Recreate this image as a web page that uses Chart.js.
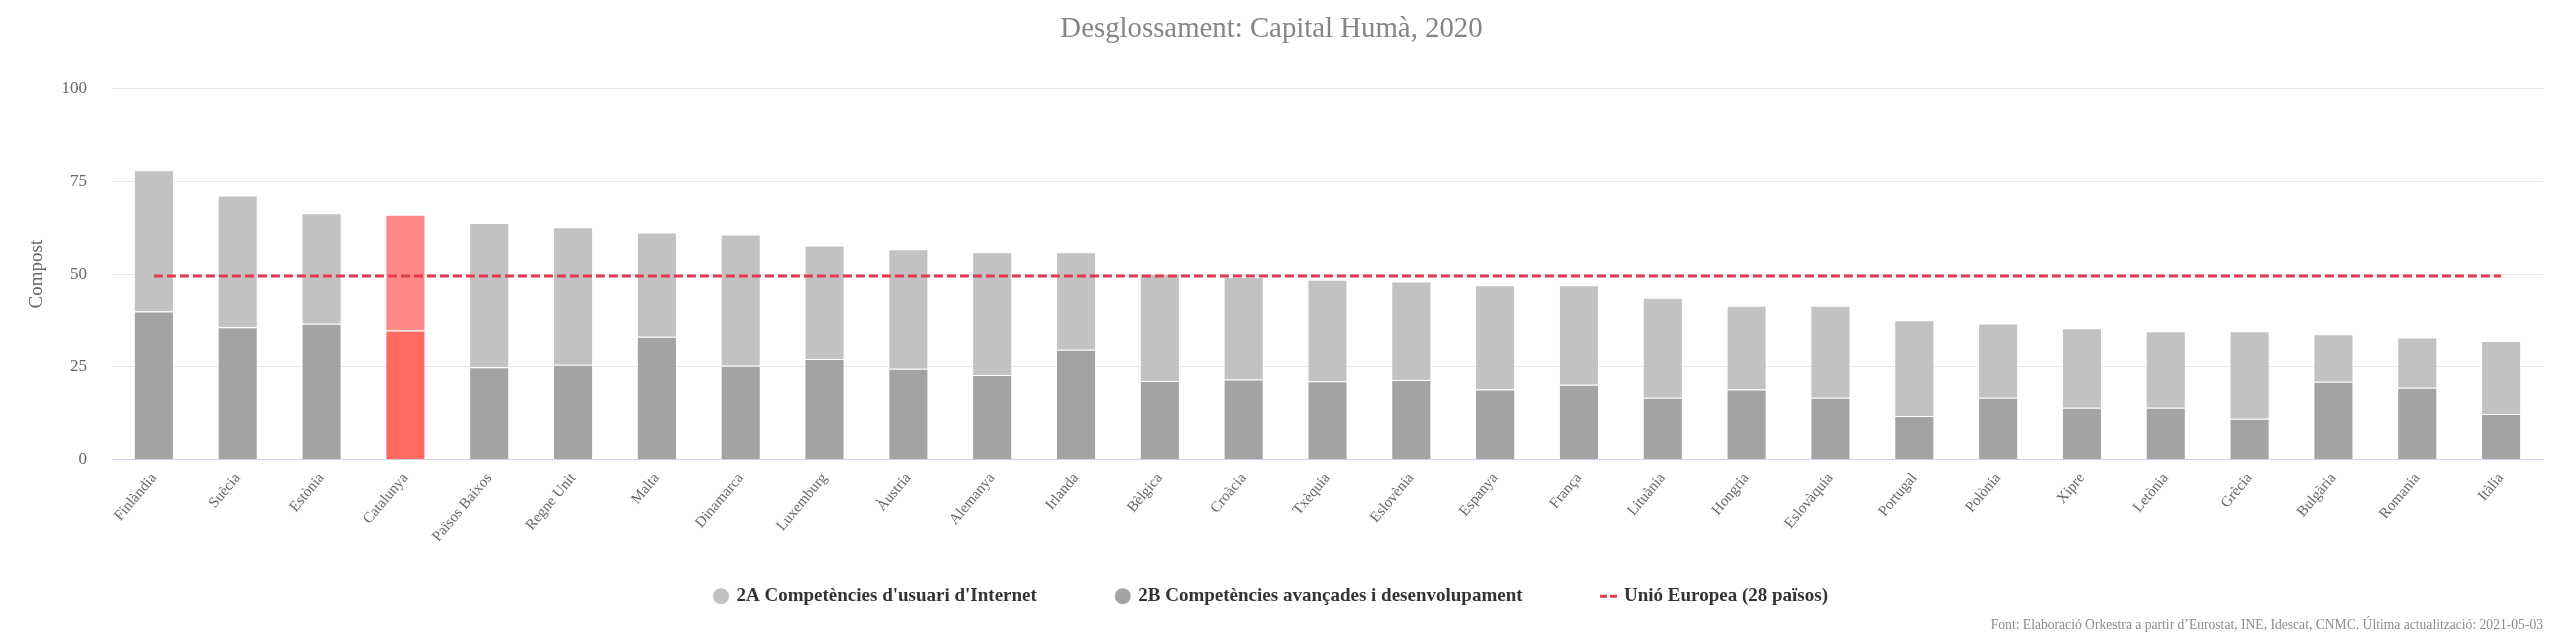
<!DOCTYPE html>
<html>
<head>
<meta charset="utf-8">
<title>Desglossament: Capital Humà, 2020</title>
<script src="https://cdn.jsdelivr.net/npm/chart.js@4.4.1/dist/chart.umd.min.js"></script>
<style>
  body { margin: 0; background: #ffffff; }
  #wrap { width: 2560px; height: 640px; }
</style>
</head>
<body>
<div id="wrap"><canvas id="capitalHumaChart"></canvas></div>
<script>
// Dades llegides del gràfic (valors aproximats)
const countries = [
  "Finlàndia", "Suècia", "Estònia", "Catalunya", "Països Baixos", "Regne Unit",
  "Malta", "Dinamarca", "Luxemburg", "Àustria", "Alemanya", "Irlanda",
  "Bèlgica", "Croàcia", "Txèquia", "Eslovènia", "Espanya", "França",
  "Lituània", "Hongria", "Eslovàquia", "Portugal", "Polònia", "Xipre",
  "Letònia", "Grècia", "Bulgària", "Romania", "Itàlia"
];

// 2A Competències d'usuari d'Internet (part superior)
const usuariInternet = [
  38.1, 35.5, 29.8, 31.2, 38.9, 37.0,
  28.1, 35.4, 30.6, 32.2, 33.1, 26.3,
  28.9, 27.6, 27.4, 26.5, 28.1, 26.8,
  26.9, 22.6, 24.8, 25.8, 20.0, 21.4,
  20.6, 23.6, 12.8, 13.5, 19.7
];

// 2B Competències avançades i desenvolupament (part inferior)
const avancades = [
  39.9, 35.7, 36.6, 34.8, 24.9, 25.6,
  33.1, 25.3, 27.1, 24.5, 22.8, 29.6,
  21.2, 21.6, 21.1, 21.5, 18.9, 20.2,
  16.7, 18.9, 16.7, 11.8, 16.7, 14.0,
  14.0, 11.0, 21.0, 19.4, 12.3
];

// Unió Europea (28 països)
const unioEuropea = [
  49.5, 49.5, 49.5, 49.5, 49.5, 49.5,
  49.5, 49.5, 49.5, 49.5, 49.5, 49.5,
  49.5, 49.5, 49.5, 49.5, 49.5, 49.5,
  49.5, 49.5, 49.5, 49.5, 49.5, 49.5,
  49.5, 49.5, 49.5, 49.5, 49.5
];

const yTicks = [0, 25, 50, 75, 100];

const highlight = "Catalunya";
const colors2A = countries.map((c) => (c === highlight ? "#ff8986" : "#c2c2c2"));
const colors2B = countries.map((c) => (c === highlight ? "#ff6a62" : "#a3a3a3"));

Chart.defaults.font.family = "'Liberation Serif', 'Times New Roman', serif";
Chart.defaults.color = "#666666";

// legend order: 2A, 2B, UE
const legendRank = { 2: 0, 1: 1, 0: 2 };

const ctx = document.getElementById("capitalHumaChart");
new Chart(ctx, {
  type: "bar",
  data: {
    labels: countries,
    datasets: [
      {
        type: "line",
        label: "Unió Europea (28 països)",
        data: unioEuropea,
        borderColor: "#e63950",
        backgroundColor: "#e63950",
        borderWidth: 3,
        borderDash: [9, 4],
        pointRadius: 0,
        pointHoverRadius: 0,
        pointStyle: "line",
        fill: false,
      },
      {
        label: "2B Competències avançades i desenvolupament",
        data: avancades,
        backgroundColor: colors2B,
        borderColor: "#ffffff",
        borderWidth: 1,
        stack: "capital",
      },
      {
        label: "2A Competències d'usuari d'Internet",
        data: usuariInternet,
        backgroundColor: colors2A,
        borderColor: "#ffffff",
        borderWidth: 1,
        stack: "capital",
      },
    ],
  },
  options: {
    responsive: true,
    maintainAspectRatio: false,
    devicePixelRatio: 1,
    animation: false,
    layout: { padding: { left: 0, right: 17, top: 0, bottom: 0 } },
    datasets: {
      bar: { categoryPercentage: 1, barPercentage: 0.478 },
    },
    plugins: {
      title: {
        display: true,
        text: "Desglossament: Capital Humà, 2020",
        color: "#858585",
        font: { size: 28.8, weight: "normal" },
        padding: { top: 12, bottom: 42 },
      },
      subtitle: {
        display: true,
        position: "bottom",
        align: "end",
        text: "Font: Elaboració Orkestra a partir d’Eurostat, INE, Idescat, CNMC. Última actualització: 2021-05-03",
        color: "#8c8c8c",
        font: { size: 13.6 },
        padding: { top: 2, bottom: 6 },
      },
      legend: {
        position: "bottom",
        labels: {
          usePointStyle: true,
          boxWidth: 12,
          boxHeight: 12,
          padding: 80,
          color: "#333333",
          font: { size: 19, weight: "bold" },
          sort: (a, b) => legendRank[a.datasetIndex] - legendRank[b.datasetIndex],
          generateLabels: (chart) =>
            Chart.defaults.plugins.legend.labels
              .generateLabels(chart)
              .map((item) => (item.datasetIndex === 0 ? { ...item, lineDash: [7, 3] } : item)),
        },
      },
      tooltip: { enabled: false },
    },
    scales: {
      x: {
        stacked: true,
        grid: { display: false, drawTicks: false },
        border: { display: true, color: "#ccd6eb", width: 1 },
        ticks: {
          autoSkip: false,
          minRotation: 50,
          maxRotation: 50,
          padding: 10,
          color: "#666666",
          font: { size: 15 },
        },
        afterFit: (scale) => {
          // the rotated labels may run into the legend's empty padding
          scale.height = 47;
          scale._computeLabelArea = () => undefined;
        },
      },
      y: {
        stacked: true,
        min: 0,
        max: 100,
        afterBuildTicks: (scale) => {
          scale.ticks = yTicks.map((v) => ({ value: v }));
        },
        grid: { color: "#e6e6e6", lineWidth: 1, drawTicks: false },
        border: { display: false },
        ticks: { padding: 25, color: "#666666", font: { size: 17 } },
        title: {
          display: true,
          text: "Compost",
          color: "#666666",
          font: { size: 19 },
          padding: { top: 26, bottom: 0 },
        },
        afterFit: (scale) => {
          scale.width = 112;
        },
      },
    },
  },
});
</script>
</body>
</html>
